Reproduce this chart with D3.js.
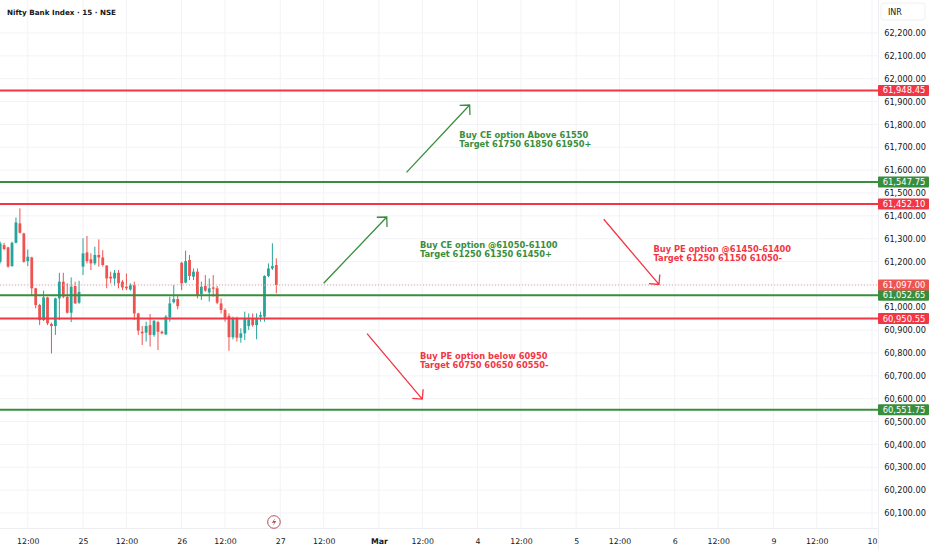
<!DOCTYPE html>
<html>
<head>
<meta charset="utf-8">
<script src="https://cdn.jsdelivr.net/npm/d3@7/dist/d3.min.js"></script>
<style>
    body { margin: 0; background: #fff; }
    text { font-family: 'DejaVu Sans', sans-serif; }
</style>
</head>
<body>
<svg id="chart" width="932" height="550"></svg>
<script>
// 15 min bars, 25 per session; bar 0 = 24 Feb 09:15, first visible bar = 10:15
const BARS_PER_DAY = 25;
const FIRST_BAR = 4;

const opens  = [61199,61272,61262,61180,61282,61367,61323,61202,61218,61083,61010,60944,61043,60927,60918,61039,61112,61046,60976,61093,61020,
                61178,61240,61210,61192,61229,61218,61182,61134,61126,61151,61112,61090,61078,61096,60973,60893,60889,60922,60879,60935,60893,60881,60956,61022,61036,
                61195,61108,61207,61134,61156,61058,61093,61065,61087,61083,61017,60988,60962,60869,60952,60867,60886,60918,60952,60922,60959,60959,61137,61170,61185];
const highs  = [61287,61282,61265,61287,61393,61433,61326,61253,61221,61085,61015,61073,61046,60933,61042,61151,61151,61105,61131,61112,61116,
                61302,61312,61236,61265,61297,61250,61185,61156,61163,61163,61119,61148,61105,61112,60976,60918,60937,60971,60944,60941,60898,60966,61046,61097,61054,
                61199,61248,61229,61170,61170,61112,61141,61126,61141,61093,61039,60995,60973,60959,60959,60908,60981,60973,60973,60973,60981,61140,61192,61280,61214];
const lows   = [61192,61250,61173,61178,61280,61323,61195,61180,61054,60995,60922,60940,60922,60798,60879,60944,61039,60973,60935,61015,61015,
                61141,61192,61163,61185,61178,61178,61083,61105,61093,61083,61075,61075,61073,60944,60879,60835,60850,60828,60871,60813,60882,60879,60937,61017,60991,
                61075,61105,61119,61119,61039,61032,61068,61025,61046,61014,60973,60937,60810,60860,60850,60845,60857,60901,60915,60860,60937,60937,61131,61163,61061];
const closes = [61279,61255,61178,61282,61371,61326,61199,61221,61083,61010,60944,61043,60930,60918,61039,61112,61046,60976,61090,61017,61067,
                61236,61202,61192,61229,61218,61185,61126,61126,61151,61105,61087,61083,61097,60973,60898,60886,60918,60879,60941,60893,60886,60959,61017,61036,61005,
                61105,61202,61137,61156,61054,61090,61073,61083,61081,61020,60988,60952,60869,60952,60867,60886,60952,60947,60922,60952,60966,61137,61170,61180,61097];

const levels     = [61948.45, 61547.75, 61452.10, 61052.65, 60950.55, 60551.75];
const levelSides = ["down", "up", "down", "up", "down", "up"];
const lastPrice  = 61097.00;

const priceTicks = d3.range(60100, 62201, 100);
const dayLabels  = ["25", "26", "27", "Mar", "4", "5", "6", "9", "10"];
const noonLabel  = "12:00";

const noteTexts  = [["Buy CE option Above 61550", "Target 61750 61850 61950+"],
                    ["Buy CE option @61050-61100", "Target 61250 61350 61450+"],
                    ["Buy PE option @61450-61400", "Target 61250 61150 61050-"],
                    ["Buy PE option below 60950", "Target 60750 60650 60550-"]];
const noteBars   = [120.4, 110.4, 169.6, 110.4];
const notePrices = [61740, 61261, 61243, 60774];
const noteSides  = ["up", "up", "down", "down"];

const arrowFromBar   = [107, 86, 157, 97];
const arrowFromPrice = [61590, 61105, 61385, 60885];
const arrowToBar     = [123, 102, 171, 111];
const arrowToPrice   = [61885, 61395, 61100, 60598];

const colors = {up: "#388e3c", down: "#f23645", candleUp: "#26a69a", candleDown: "#ef5350", grid: "#f2f3f6", text: "#131722"};

const plotR = 878, plotB = 528;
const svg = d3.select("#chart");
const x = d3.scaleLinear().domain([0, 225]).range([-15.6, 872]);
const y = d3.scaleLinear().domain([60100, 62200]).range([513, 33]);

svg.append("defs").append("clipPath").attr("id", "clip")
    .append("rect").attr("width", plotR).attr("height", plotB);

// grid
let dayTicks = dayLabels.map((d, k) => (k + 1) * BARS_PER_DAY);
let noonTicks = d3.range(0, 10).map(d => d * BARS_PER_DAY + 11);
let allTicks = dayTicks.concat(noonTicks).sort((a, b) => a - b);

let grid = svg.append("g").attr("clip-path", "url(#clip)");
grid.selectAll(".vg").data(allTicks).join("line")
    .attr("x1", d => x(d)).attr("x2", d => x(d)).attr("y1", 0).attr("y2", plotB)
    .attr("stroke", colors.grid).attr("stroke-width", 1);
grid.selectAll(".hg").data(priceTicks).join("line")
    .attr("x1", 0).attr("x2", plotR).attr("y1", d => y(d)).attr("y2", d => y(d))
    .attr("stroke", colors.grid).attr("stroke-width", 1);

// borders
svg.append("line").attr("x1", plotR + 0.5).attr("x2", plotR + 0.5).attr("y1", 0).attr("y2", 550).attr("stroke", "#eceef2");
svg.append("line").attr("x1", 0).attr("x2", plotR).attr("y1", plotB + 0.5).attr("y2", plotB + 0.5).attr("stroke", "#eceef2");

let plot = svg.append("g").attr("clip-path", "url(#clip)");

// candles
let bars = opens.map((o, k) => ({i: FIRST_BAR + k, o: o, h: highs[k], l: lows[k], c: closes[k]}));
let barW = 2.8;
let candle = plot.selectAll(".c").data(bars).join("g");
candle.append("line")
    .attr("x1", d => x(d.i)).attr("x2", d => x(d.i))
    .attr("y1", d => y(d.h)).attr("y2", d => y(d.l))
    .attr("stroke", d => d.c >= d.o ? colors.candleUp : colors.candleDown).attr("stroke-width", 1);
candle.append("rect")
    .attr("x", d => x(d.i) - barW / 2).attr("width", barW)
    .attr("y", d => y(Math.max(d.o, d.c)))
    .attr("height", d => Math.max(1, Math.abs(y(d.o) - y(d.c))))
    .attr("fill", d => d.c >= d.o ? colors.candleUp : colors.candleDown);

// last price dotted line
plot.append("line").attr("x1", 0).attr("x2", plotR).attr("y1", y(lastPrice)).attr("y2", y(lastPrice))
    .attr("stroke", "#f4a0a6").attr("stroke-width", 1).attr("stroke-dasharray", "1 2");

// levels
plot.selectAll(".lv").data(levels).join("line")
    .attr("x1", 0).attr("x2", plotR).attr("y1", d => y(d)).attr("y2", d => y(d))
    .attr("stroke", (d, k) => colors[levelSides[k]]).attr("stroke-width", 2);

// arrows
arrowFromBar.forEach((b, k) => {
    let x1 = x(b), y1 = y(arrowFromPrice[k]), x2 = x(arrowToBar[k]), y2 = y(arrowToPrice[k]);
    let col = colors[noteSides[k]];
    let back = Math.atan2(y1 - y2, x1 - x2);
    let len = 10;
    let p = d3.path();
    p.moveTo(x1, y1); p.lineTo(x2, y2);
    p.moveTo(x2 + len * Math.cos(back - Math.PI / 4), y2 + len * Math.sin(back - Math.PI / 4));
    p.lineTo(x2, y2);
    p.lineTo(x2 + len * Math.cos(back + Math.PI / 4), y2 + len * Math.sin(back + Math.PI / 4));
    plot.append("path").attr("d", p.toString()).attr("fill", "none")
        .attr("stroke", col).attr("stroke-width", 1.3);
});

// notes
noteTexts.forEach((lines, k) => {
    let t = plot.append("text").attr("x", x(noteBars[k])).attr("y", y(notePrices[k]))
        .attr("fill", colors[noteSides[k]]).attr("font-size", "8.3px").attr("font-weight", "bold");
    lines.forEach((s, j) => t.append("tspan").attr("x", x(noteBars[k])).attr("dy", j ? 9.3 : 0).text(s));
});

// event marker
let ev = svg.append("g").attr("transform", `translate(${x(73.4)},522)`);
ev.append("circle").attr("r", 6.3).attr("fill", "#fff").attr("stroke", "#b8505a").attr("stroke-width", 1);
ev.append("path").attr("d", "M1.6,-4.2 L-2.2,0.8 L0.3,0.8 L-1.4,4.2 L2.4,-1 L-0.1,-1 Z").attr("fill", "#b8505a");

// price axis
let tagY = levels.concat([lastPrice]).map(y);
let yAxis = d3.axisRight(y).tickValues(priceTicks.filter(t => tagY.every(v => Math.abs(v - y(t)) > 6)))
    .tickFormat(d3.format(",.2f")).tickSize(0).tickPadding(0);
let ya = svg.append("g").attr("transform", `translate(905,0)`).call(yAxis);
ya.select(".domain").remove();
ya.selectAll("text").attr("text-anchor", "middle").attr("fill", colors.text)
    .attr("font-size", "8.2px").attr("font-family", "'DejaVu Sans', sans-serif");

// price tags
let tags = levels.map((v, k) => ({v: v, col: colors[levelSides[k]]}));
tags.push({v: lastPrice, col: colors.candleDown});
let tg = svg.selectAll(".tag").data(tags).join("g").attr("transform", d => `translate(878,${y(d.v)})`);
tg.append("rect").attr("x", 0).attr("y", -5.5).attr("width", 51).attr("height", 11).attr("rx", 1).attr("fill", d => d.col);
tg.append("text").attr("x", 26).attr("y", 0).attr("dy", "0.35em").attr("text-anchor", "middle")
    .attr("fill", "#fff").attr("font-size", "8.4px").text(d => d3.format(",.2f")(d.v));

// currency button
svg.append("rect").attr("x", 881).attr("y", 3).attr("width", 44).attr("height", 17).attr("rx", 3)
    .attr("fill", "#fff").attr("stroke", "#eef0f3");
svg.append("text").attr("x", 888).attr("y", 15).attr("fill", colors.text).attr("font-size", "8px").text("INR");

// time axis
let labelFor = new Map();
dayTicks.forEach((t, k) => labelFor.set(t, dayLabels[k]));
noonTicks.forEach(t => labelFor.set(t, noonLabel));
let xAxis = d3.axisBottom(x).tickValues(allTicks.filter(t => x(t) > 10 && x(t) < plotR))
    .tickFormat(d => labelFor.get(d)).tickSize(0).tickPadding(0);
let xa = svg.append("g").attr("transform", `translate(0,538)`).call(xAxis);
xa.select(".domain").remove();
xa.selectAll("text").attr("fill", colors.text).attr("font-size", "7.8px")
    .attr("font-family", "'DejaVu Sans', sans-serif")
    .attr("font-weight", d => labelFor.get(d) === "Mar" ? "bold" : "normal");

// title
svg.append("text").attr("x", 7).attr("y", 15).attr("fill", colors.text)
    .attr("font-size", "7.2px").attr("font-weight", "bold").text("Nifty Bank Index · 15 · NSE");
</script>
</body>
</html>
